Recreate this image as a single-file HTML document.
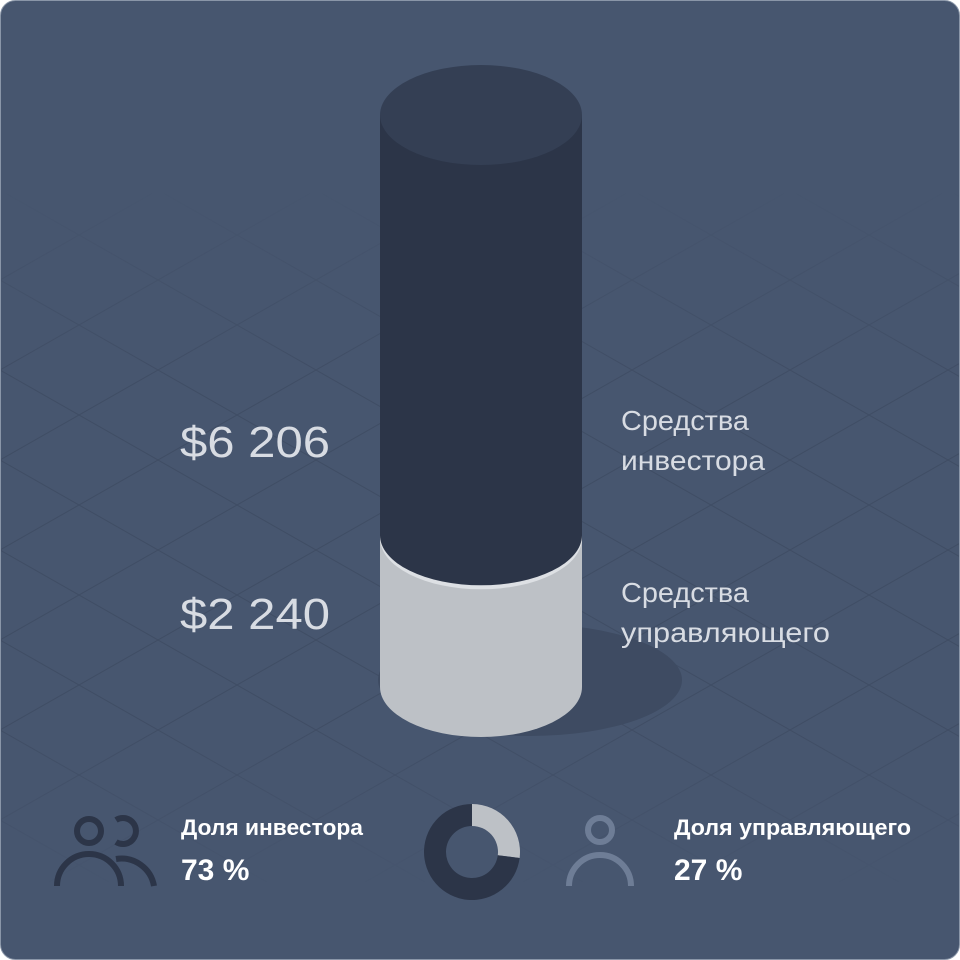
<!DOCTYPE html>
<html><head><meta charset="utf-8"><style>
html,body{margin:0;background:#fff;width:960px;height:960px;overflow:hidden;}
#card{position:absolute;left:0;top:0;width:960px;height:960px;overflow:hidden;}
svg{display:block;}
text{font-family:"Liberation Sans",sans-serif;}
</style></head><body>
<div id="card">
<svg id="chart" width="960" height="960" viewBox="0 0 960 960">
<defs>
<pattern id="iso" x="0" y="10" width="158" height="90" patternUnits="userSpaceOnUse">
<path d="M0 0 L158 90 M0 90 L158 0" stroke="#2f3a4d" stroke-opacity="0.3" stroke-width="1" fill="none"/>
</pattern>
<linearGradient id="fade" x1="0" y1="0" x2="0" y2="1">
<stop offset="0.2" stop-color="#fff" stop-opacity="0"/>
<stop offset="0.4" stop-color="#fff" stop-opacity="1"/>
<stop offset="0.75" stop-color="#fff" stop-opacity="1"/>
<stop offset="0.92" stop-color="#fff" stop-opacity="0"/>
</linearGradient>
<mask id="gridmask"><rect x="0" y="0" width="960" height="960" fill="url(#fade)"/></mask>
</defs>
<rect x="0.5" y="0.5" width="959" height="959" rx="15" fill="#47566f" stroke="#8a96a8"/>
<rect x="1" y="1" width="958" height="958" rx="14" fill="url(#iso)" mask="url(#gridmask)"/>
<ellipse cx="530" cy="680" rx="152" ry="56" fill="#3e4b62"/>
<g id="cyl"></g>
<g id="labels"></g>
<g fill="none" stroke="#2c3548" stroke-width="6">
<circle cx="89" cy="831" r="12"/>
<path d="M57 886 A32 32 0 0 1 121 886"/>
<path d="M116 820 A13 13 0 1 1 116 842"/>
<path d="M116 859 A33 33 0 0 1 154 886"/>
</g>
<text x="181" y="835" font-size="22" font-weight="bold" fill="#ffffff" textLength="182" lengthAdjust="spacingAndGlyphs">Доля инвестора</text>
<text x="181" y="880" font-size="30" font-weight="bold" fill="#ffffff">73 %</text>
<g id="donut"></g>
<g fill="none" stroke="#6e7d96" stroke-width="6">
<circle cx="600" cy="830" r="12"/>
<path d="M569 886 A31 31 0 0 1 631 886"/>
</g>
<text x="674" y="835" font-size="22" font-weight="bold" fill="#ffffff" textLength="237" lengthAdjust="spacingAndGlyphs">Доля управляющего</text>
<text x="674" y="880" font-size="30" font-weight="bold" fill="#ffffff">27 %</text>
</svg>
</div>
<script>
const categories = ["Средства инвестора", "Средства управляющего"];
const values = [6206, 2240];
const valueLabels = ["$6 206", "$2 240"];
const shares = [73, 27];

const NS = "http://www.w3.org/2000/svg";
function mk(tag, attrs, parent){const e=document.createElementNS(NS,tag);for(const k in attrs)e.setAttribute(k,attrs[k]);parent.appendChild(e);return e;}

const cx=481, rx=101, ry=50, baseY=687, topY=115;
const totalV=values[0]+values[1];
function yScale(v){return baseY-(v/totalV)*(baseY-topY);}
const cylG=document.getElementById('cyl');
const yMid=yScale(values[1]);
const yTop=yScale(totalV);
let seg=mk('path',{d:`M${cx-rx} ${yMid} L${cx-rx} ${baseY} A${rx} ${ry} 0 0 0 ${cx+rx} ${baseY} L${cx+rx} ${yMid} Z`,fill:'#bdc1c6'},cylG);


let rimE=mk('ellipse',{cx:cx,cy:yMid+3,rx:rx,ry:ry+1,fill:'#dde0e4'},cylG);


seg=mk('path',{d:`M${cx-rx} ${yTop} L${cx-rx} ${yMid} A${rx} ${ry} 0 0 0 ${cx+rx} ${yMid} L${cx+rx} ${yTop} Z`,fill:'#2c3548'},cylG);


let capE=mk('ellipse',{cx:cx,cy:yTop,rx:rx,ry:ry,fill:'#343f54'},cylG);



const lg=document.getElementById('labels');
const valY=[457, 629];
const catY=[430, 602];
const catW=[[128,144],[128,209]];
for(let i=0;i<2;i++){
  let t=mk('text',{x:180,y:valY[i],'font-size':44,fill:'#d8dce3',textLength:150,lengthAdjust:'spacingAndGlyphs'},lg);
  t.textContent=valueLabels[i];
  
  
  const words=categories[i].split(' ');
  for(let j=0;j<words.length;j++){
    let c=mk('text',{x:621,y:catY[i]+j*40,'font-size':28,fill:'#d8dce3',textLength:catW[i][j],lengthAdjust:'spacingAndGlyphs'},lg);
    c.textContent=words[j];
    
    
  }
}

const dg=document.getElementById('donut');
const dcx=472,dcy=852,R=48,r=26;
let a0=-Math.PI/2;
const cols=['#2c3548','#bdc1c6'];
const order=[1,0];
for(const i of order){
  const a1=a0+shares[i]/100*2*Math.PI;
  const large=(a1-a0)>Math.PI?1:0;
  const d=`M${dcx+R*Math.cos(a0)} ${dcy+R*Math.sin(a0)} A${R} ${R} 0 ${large} 1 ${dcx+R*Math.cos(a1)} ${dcy+R*Math.sin(a1)} L${dcx+r*Math.cos(a1)} ${dcy+r*Math.sin(a1)} A${r} ${r} 0 ${large} 0 ${dcx+r*Math.cos(a0)} ${dcy+r*Math.sin(a0)} Z`;
  const s=mk('path',{d:d,fill:cols[i]},dg);
  
  
  a0=a1;
}
</script>
</body></html>
